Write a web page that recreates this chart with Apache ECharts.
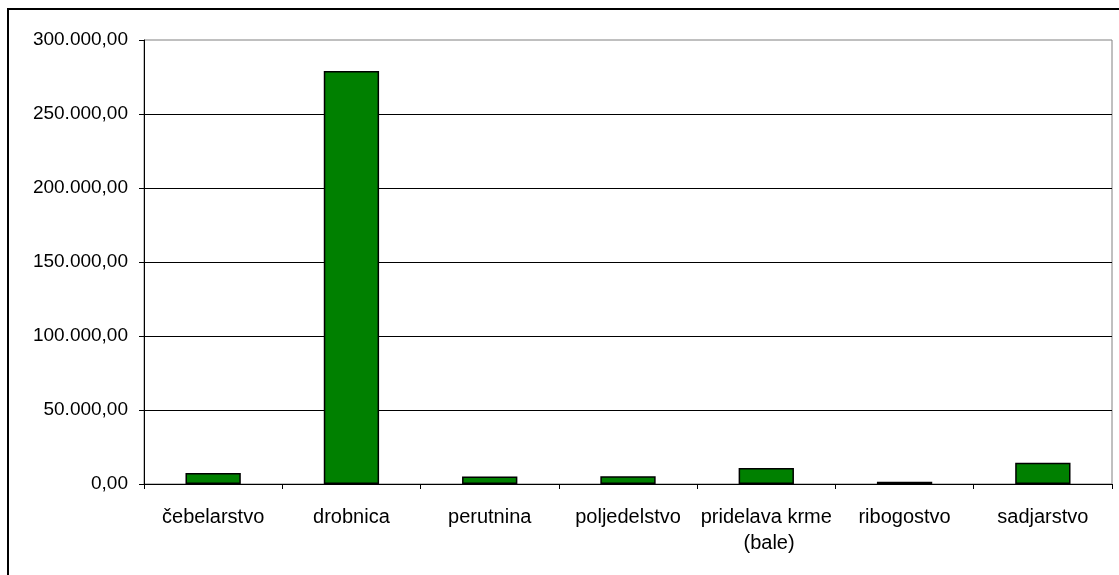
<!DOCTYPE html>
<html>
<head>
<meta charset="utf-8">
<script src="https://cdn.jsdelivr.net/npm/echarts@6/dist/echarts.min.js"></script>
<style>
html,body{margin:0;padding:0;background:#fff;}
#c{width:1119px;height:575px;}
</style>
</head>
<body>
<div id="c"></div>
<script>
const categories = ["čebelarstvo", "drobnica", "perutnina", "poljedelstvo", "pridelava krme (bale)", "ribogostvo", "sadjarstvo"];
const values = [7500, 279000, 5000, 5200, 10800, 1500, 14300];
const yMax = 300000;
const yInterval = 50000;

function fmt(v) {
  const int = Math.round(v).toString().replace(/\B(?=(\d{3})+(?!\d))/g, ".");
  return int + ",00";
}

const chart = echarts.init(document.getElementById('c'), null, {renderer: 'canvas'});
chart.setOption({
  animation: false,
  backgroundColor: '#fff',
  graphic: [{
    type: 'rect',
    shape: {x: 8, y: 9, width: 1200, height: 700},
    style: {fill: 'none', stroke: '#000', lineWidth: 2},
    silent: true,
    z: 100
  }],
  grid: {
    left: 144, right: 7, top: 40, bottom: 91,
    show: true, borderColor: '#808080', borderWidth: 1, backgroundColor: '#fff'
  },
  xAxis: {
    type: 'category',
    data: categories,
    axisLine: {lineStyle: {color: '#000', width: 1}},
    axisTick: {show: true, length: 5, lineStyle: {color: '#000'}},
    axisLabel: {
      color: '#000', fontFamily: 'Liberation Sans, Arial, sans-serif', fontSize: 20,
      margin: 20, width: 136, overflow: 'break', lineHeight: 26, interval: 0
    }
  },
  yAxis: {
    type: 'value',
    min: 0, max: yMax, interval: yInterval,
    axisLine: {show: true, lineStyle: {color: '#000', width: 1}},
    axisTick: {show: true, length: 5, lineStyle: {color: '#000'}},
    splitLine: {show: true, showMinLine: false, showMaxLine: false, lineStyle: {color: '#000', width: 1}},
    axisLabel: {
      color: '#000', fontFamily: 'Liberation Sans, Arial, sans-serif', fontSize: 19,
      margin: 16, formatter: fmt
    }
  },
  series: [{
    type: 'bar',
    data: values,
    barCategoryGap: '60%',
    itemStyle: {color: '#008000', borderColor: '#000', borderWidth: 1.5}
  }]
});
</script>
</body>
</html>
